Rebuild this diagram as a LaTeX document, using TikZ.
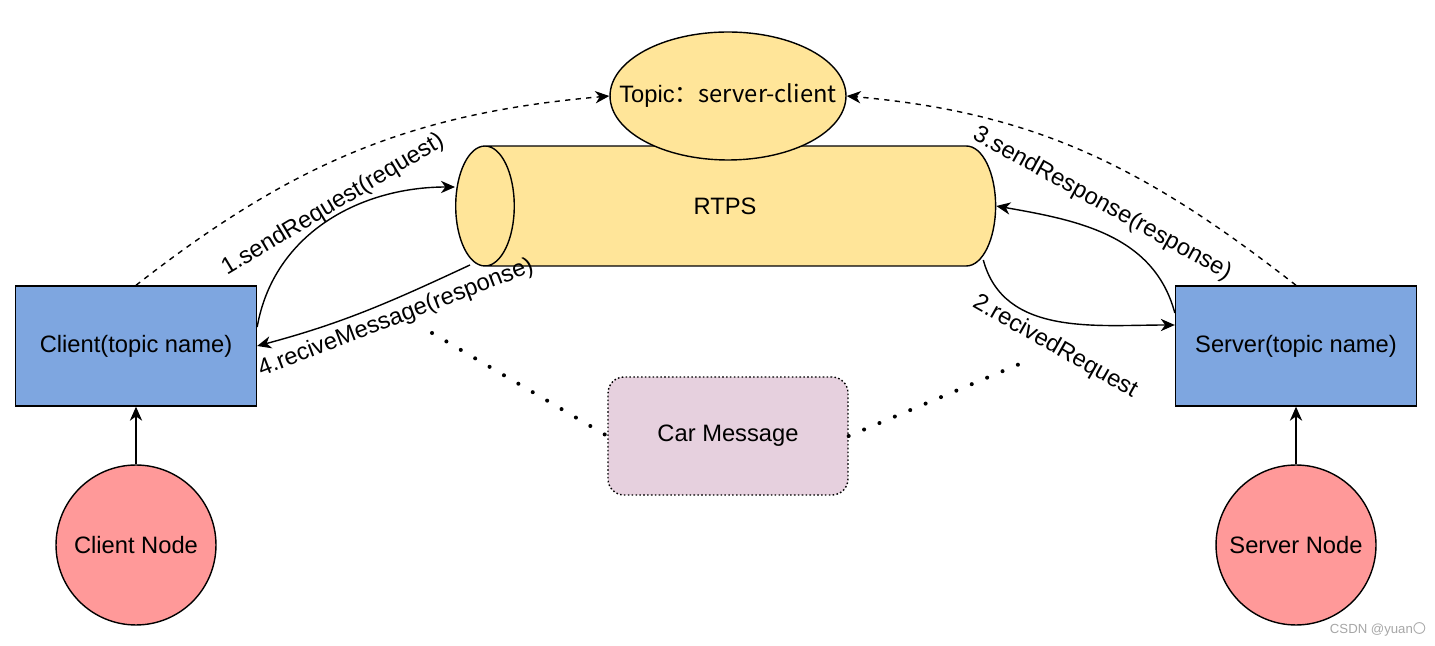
\documentclass[tikz,border=0pt]{standalone}
\usepackage{fontspec}
\setmainfont{Liberation Sans}
\newfontfamily\cjk{Noto Sans CJK SC}
\usetikzlibrary{arrows.meta,shapes.geometric}
\definecolor{boxblue}{HTML}{7EA6E0}
\definecolor{nodered}{HTML}{FF9999}
\definecolor{pipeyellow}{HTML}{FFE599}
\definecolor{msgpink}{HTML}{E6D0DE}
\tikzset{
  box/.style={draw,fill=boxblue,minimum width=4.82cm,minimum height=2.4cm},
  ros/.style={draw,circle,fill=nodered,minimum size=3.2cm},
  dotline/.style={line width=2.3pt,dash pattern=on 0pt off 9.5pt,line cap=round},
}
\begin{document}
\begin{tikzpicture}[x=0.02cm,y=0.02cm,>={Stealth[length=8pt,width=7pt,inset=2.5pt]},line width=0.8pt,font=\fontsize{13.5}{16}\selectfont]
\useasboundingbox (0,0) rectangle (1435,645);
\node (rtps) [cylinder,shape border rotate=180,aspect=5,draw,fill=pipeyellow,minimum height=10.8cm,minimum width=2.4cm,anchor=west] at (455,439) {};
\node (pipe) at (725,439) {RTPS};
\node (topic) [ellipse,draw,fill=pipeyellow,minimum width=4.72cm,minimum height=2.56cm,inner sep=0pt] at (728,549) {\makebox[0pt]{Topic\cjk{：}server-client}};
\node (client) [box] at (136,299) {Client(topic name)};
\node (server) [box] at (1296,299) {Server(topic name)};
\node (cnode) [ros] at (136,100) {Client Node};
\node (snode) [ros] at (1296,100) {Server Node};
\node (car) [draw,dash pattern=on 0.9pt off 1.3pt,rounded corners=0.32cm,fill=msgpink,minimum width=4.8cm,minimum height=2.36cm] at (728,209) {Car Message};
\draw[->] (cnode) -- (client);
\draw[->] (snode) -- (server);
% publish / subscribe
\draw[->,dashed] (client.north) to[out=38,in=185] (topic.west);
\draw[->,dashed] (server.north) to[out=142,in=-5] (topic.east);
% request and response
\draw[->] ([yshift=0.38cm]client.east) to[out=80,in=180] ([yshift=0.38cm]rtps.west);
\draw[->] ([xshift=0.3cm,yshift=-1.18cm]rtps.west) to[out=205,in=15] (client.east);
\draw[->] ([xshift=-0.26cm,yshift=-1.08cm]rtps.east) to[out=-75,in=180] ([yshift=0.42cm]server.west);
\draw[->] ([yshift=0.66cm]server.west) to[out=105,in=-10] (rtps.east);
\node (l1) [rotate=31] at (333,440) {1.sendRequest(request)};
\node (l4) [rotate=21] at (396,327) {4.reciveMessage(response)};
\node (l3) [rotate=-29] at (1102,441) {3.sendResponse(response)};
\node (l2) [rotate=-29.5] at (1055,298) {2.recivedRequest};
\coordinate (cdot) at (432,312);
\coordinate (sdot) at (1022,282);
\draw[dotline] (cdot) -- (car.west);
\draw[dotline] (car.east) -- (sdot);
\node (mark) [text=gray!70,font=\fontsize{7.5}{9}\selectfont] at (1378,16) {CSDN @yuan\cjk{〇}};
\end{tikzpicture}
\end{document}
